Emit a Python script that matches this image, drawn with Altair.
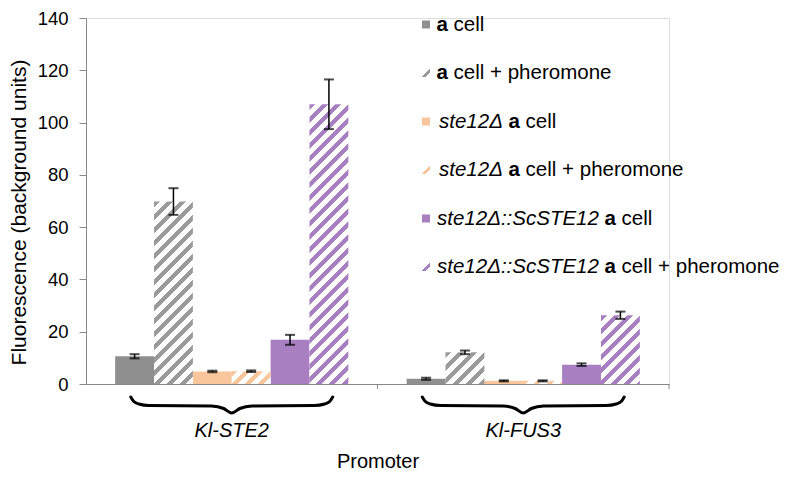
import altair as alt
import pandas as pd

# ---------------- data ----------------
promoters = ["Kl-STE2", "Kl-FUS3"]
series = [
    "a cell",
    "a cell + pheromone",
    "ste12Δ a cell",
    "ste12Δ a cell + pheromone",
    "ste12Δ::ScSTE12 a cell",
    "ste12Δ::ScSTE12 a cell + pheromone",
]
hatched = [False, True, False, True, False, True]
values_ste2 = [10.6, 69.8, 4.8, 4.9, 16.9, 107.0]
errors_ste2 = [0.8, 5.1, 0.3, 0.3, 1.9, 9.5]
values_fus3 = [2.0, 12.1, 1.2, 1.2, 7.4, 26.3]
errors_fus3 = [0.4, 0.7, 0.2, 0.2, 0.5, 1.4]
y_ticks = [0, 20, 40, 60, 80, 100, 120, 140]

# ---------------- styles ----------------
colors = ["#8f8f8f", "#9a9a9a", "#f9c59b", "#f9c59b", "#a87fc1", "#a87fc1"]
FONT = "Liberation Sans"
PAD_L, PAD_T = 78, 10
W, H, YMAX = 583, 366, 140
PAD_IN, PAD_OUT = 0.2, 0.1
step = W / (len(promoters) - PAD_IN + 2 * PAD_OUT)
band = step * (1 - PAD_IN)
bar_w = band / len(series)

rows = []
for p, vals, errs in zip(promoters, [values_ste2, values_fus3], [errors_ste2, errors_fus3]):
    for s, hf, v, e in zip(series, hatched, vals, errs):
        rows.append(dict(promoter=p, series=s, hatched=hf, value=v, lo=v - e, hi=v + e))
df = pd.DataFrame(rows)


def hatch(color, w, h, period=13.0, frac=0.45):
    L = w + h
    k = L / (w * w + h * h)
    dt = period / L
    stops = []
    t = 0.0
    while t < 1.0:
        b = min(t + frac * dt, 1.0)
        c = min(t + dt, 1.0)
        stops += [
            alt.GradientStop(offset=t, color=color),
            alt.GradientStop(offset=b, color=color),
            alt.GradientStop(offset=b, color="white"),
            alt.GradientStop(offset=c, color="white"),
        ]
        t += dt
    return alt.LinearGradient(gradient="linear", stops=stops, x1=0, y1=0, x2=w * k, y2=h * k)


y_title = "Fluorescence (background units)"
y_scale = alt.Scale(domain=[0, YMAX], nice=False, zero=True)
y_axis = alt.Axis(
    values=y_ticks, grid=False, tickSize=7, tickColor="#888888", domainColor="#888888",
    labelFontSize=18.5, labelPadding=11, labelColor="black",
    titleFontSize=21, titleFontWeight="normal", titleColor="black",
    titleX=-61, titleY=H / 2 + 11, titleBaseline="alphabetic", titleAngle=-90,
)
x_enc = alt.X(
    "promoter:N", sort=promoters,
    scale=alt.Scale(domain=promoters, paddingInner=PAD_IN, paddingOuter=PAD_OUT),
    axis=alt.Axis(
        title="Promoter", labelAngle=0, ticks=False, labelPadding=52, labelBaseline="alphabetic",
        labelFontSize=20, labelFontStyle="italic", labelColor="black", domainColor="#888888",
        titleFontSize=20, titleFontWeight="normal", titleColor="black",
        titleY=83, titleBaseline="alphabetic",
    ),
)
xo_enc = alt.XOffset("series:N", sort=series,
                     scale=alt.Scale(domain=series, paddingInner=0, paddingOuter=0))


def yq(field):
    return alt.Y(field, scale=y_scale, axis=y_axis, title=y_title)


base = alt.Chart(df).encode(x=x_enc, xOffset=xo_enc)

layers = []
layers.append(
    base.transform_filter("!datum.hatched").mark_bar().encode(
        y=yq("value:Q"),
        color=alt.Color("series:N", scale=alt.Scale(domain=series, range=colors), legend=None),
    )
)
for r in rows:
    if r["hatched"]:
        h_px = r["value"] / YMAX * H
        col = colors[series.index(r["series"])]
        layers.append(
            base.transform_filter(
                (alt.datum.promoter == r["promoter"]) & (alt.datum.series == r["series"])
            ).mark_bar(fill=hatch(col, bar_w, h_px)).encode(y=yq("value:Q"))
        )

layers.append(base.mark_rule(color="black", strokeWidth=1.5).encode(y=yq("lo:Q"), y2="hi:Q"))
layers.append(base.mark_tick(color="black", size=10, thickness=2).encode(y=yq("lo:Q")))
layers.append(base.mark_tick(color="black", size=10, thickness=2).encode(y=yq("hi:Q")))

# small ticks at category boundaries
layers.append(
    alt.Chart(pd.DataFrame({"promoter": promoters})).mark_rule(
        color="#888888", strokeWidth=1, xOffset=step / 2
    ).encode(x=x_enc, y=alt.value(H), y2=alt.value(H + 5))
)

# ---------------- braces (below each group of bars) ----------------
brace_u = [-1, -0.97, -0.92, -0.82, -0.2, -0.08, 0, 0.08, 0.2, 0.82, 0.92, 0.97, 1]
brace_dy = [13, 17.5, 20, 21.5, 22, 24.5, 29, 24.5, 22, 21.5, 20, 17.5, 13]
half = band * 0.433
brows = []
for g in range(len(promoters)):
    cx = PAD_OUT * step + g * step + band / 2
    for i, (u, dy) in enumerate(zip(brace_u, brace_dy)):
        brows.append(dict(g=g, i=i, bx=cx + u * half, by=H + dy))
layers.append(
    alt.Chart(pd.DataFrame(brows)).mark_line(
        color="black", strokeWidth=3, interpolate="monotone", strokeCap="round"
    ).encode(
        x=alt.X("bx:Q", scale=None, axis=None),
        y=alt.Y("by:Q", scale=None, axis=None),
        detail="g:N", order="i:Q",
    )
)

# ---------------- legend ----------------
LF = 20.5
REG = {' ': .278, 'c': .5, 'e': .556, 'l': .222, '+': .584, 'p': .556, 'h': .556,
       'r': .333, 'o': .556, 'm': .833, 'n': .556, 'a': .556}
BOLD = {'a': .556, ' ': .278}
ITAL = {'s': .5, 't': .278, 'e': .556, '1': .556, '2': .556, 'Δ': .667, ':': .278,
        'S': .667, 'c': .5, 'T': .611, 'E': .667, ' ': .278}
MET = {"normal": REG, "bold": BOLD, "italic": ITAL}
legend_rows = [
    [("a", "bold"), (" cell", "normal")],
    [("a", "bold"), (" cell + pheromone", "normal")],
    [("ste12Δ", "italic"), (" ", "normal"), ("a", "bold"), (" cell", "normal")],
    [("ste12Δ", "italic"), (" ", "normal"), ("a", "bold"), (" cell + pheromone", "normal")],
    [("ste12Δ::ScSTE12", "italic"), (" ", "normal"), ("a", "bold"), (" cell", "normal")],
    [("ste12Δ::ScSTE12", "italic"), (" ", "normal"), ("a", "bold"), (" cell + pheromone", "normal")],
]
row_start = [350.5, 350.5, 353, 353, 351, 351]
sym_x = 340
row_y = [24.5 + 48.5 * i - (8 + PAD_T) for i in range(len(series))]

segs = []
for ri, segl in enumerate(legend_rows):
    xpos = row_start[ri]
    for txt, sty in segl:
        met = MET[sty]
        stripped = txt.lstrip(" ")
        lead = len(txt) - len(stripped)
        xstart = xpos + lead * met[' '] * LF
        if stripped:
            segs.append(dict(tx=xstart, ty=row_y[ri], text=stripped, sty=sty))
        xpos += sum(met[ch] for ch in txt) * LF
seg_df = pd.DataFrame(segs)
for sty, kw in [("normal", {}), ("bold", {"fontWeight": "bold"}), ("italic", {"fontStyle": "italic"})]:
    layers.append(
        alt.Chart(seg_df).transform_filter(alt.datum.sty == sty).mark_text(
            align="left", baseline="middle", fontSize=LF, color="black", font=FONT, **kw
        ).encode(
            x=alt.X("tx:Q", scale=None, axis=None),
            y=alt.Y("ty:Q", scale=None, axis=None),
            text="text:N",
        )
    )

sym_df = pd.DataFrame({"sx": [sym_x] * len(series), "sy": row_y, "col": colors,
                       "hatched": hatched, "k": list(range(len(series)))})
layers.append(
    alt.Chart(sym_df).transform_filter("!datum.hatched").mark_square(size=64, opacity=1).encode(
        x=alt.X("sx:Q", scale=None, axis=None),
        y=alt.Y("sy:Q", scale=None, axis=None),
        color=alt.Color("col:N", scale=None),
    )
)
for k in range(len(series)):
    if hatched[k]:
        sg = alt.LinearGradient(gradient="linear", x1=0, y1=0, x2=1, y2=1, stops=[
            alt.GradientStop(offset=0, color="white"),
            alt.GradientStop(offset=0.45, color="white"),
            alt.GradientStop(offset=0.45, color=colors[k]),
            alt.GradientStop(offset=0.75, color=colors[k]),
            alt.GradientStop(offset=0.75, color="white"),
            alt.GradientStop(offset=1, color="white"),
        ])
        layers.append(
            alt.Chart(sym_df).transform_filter(alt.datum.k == k).mark_square(
                size=64, opacity=1, fill=sg, filled=True
            ).encode(
                x=alt.X("sx:Q", scale=None, axis=None),
                y=alt.Y("sy:Q", scale=None, axis=None),
            )
        )

chart = alt.layer(*layers).properties(
    width=W, height=H,
    padding={"left": PAD_L, "top": PAD_T, "right": 123, "bottom": 88},
    autosize=alt.AutoSizeParams(type="none"),
).configure_view(stroke=None).configure(font=FONT)

chart.save("out.html", embed_options={"renderer": "svg", "actions": False})
